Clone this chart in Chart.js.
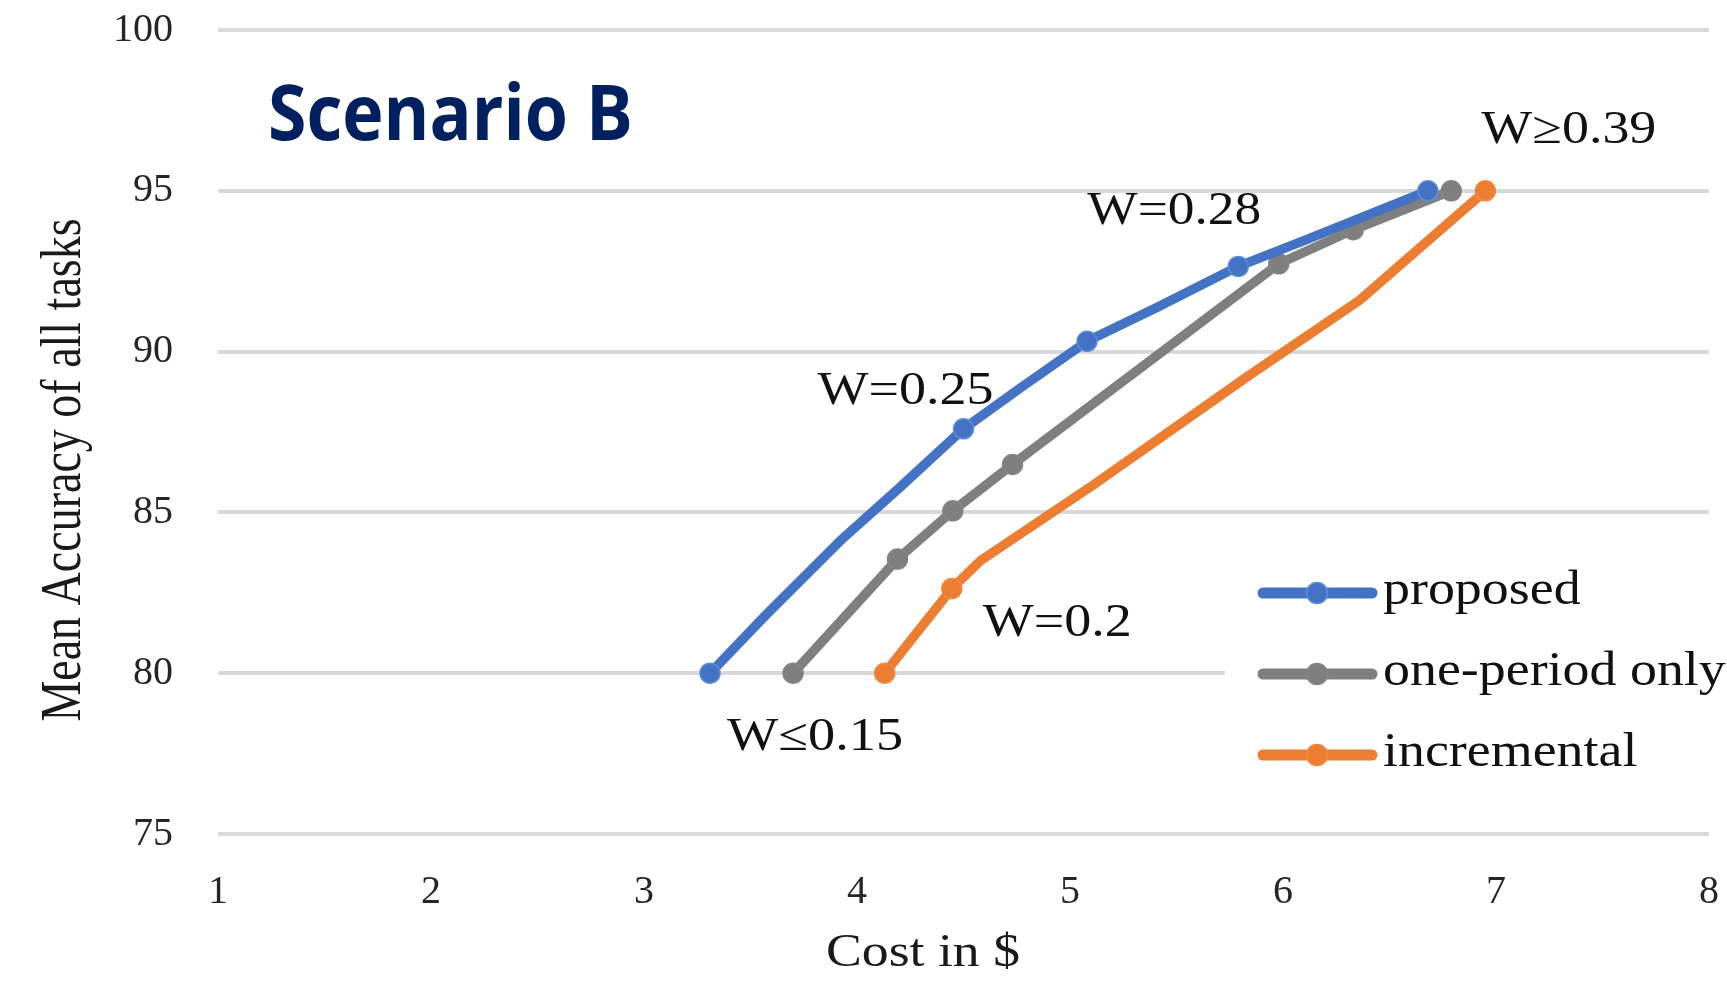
<!DOCTYPE html>
<html>
<head>
<meta charset="utf-8">
<title>Scenario B – cost vs. accuracy</title>
<script src="https://cdn.jsdelivr.net/npm/chart.js@4.4.1/dist/chart.umd.min.js"></script>
<style>
  html, body { margin: 0; padding: 0; background: #ffffff; }
  canvas { display: block; }
</style>
</head>
<body>
<canvas id="chart" width="1727" height="983"></canvas>
<script>
// ---- data -------------------------------------------------------------
const chartHeading = 'Scenario B';
const xTitle = 'Cost in $';
const yTitle = 'Mean Accuracy of all tasks';
const seriesNames = ['proposed', 'one-period only', 'incremental'];

const proposedCost = [3.31, 3.575, 3.92, 4.20, 4.50, 4.78, 5.08, 5.41, 5.79, 6.11, 6.68];
const proposedAcc  = [80.0, 81.83, 84.11, 85.77, 87.60, 88.93, 90.32, 91.38, 92.65, 93.48, 95.0];
const proposedMarked = [0, 4, 6, 8, 10];

const onePeriodCost = [3.70, 4.19, 4.45, 4.73, 5.98, 6.33, 6.79];
const onePeriodAcc  = [80.0, 83.55, 85.05, 86.49, 92.73, 93.79, 95.0];
const onePeriodMarked = [0, 1, 2, 3, 4, 5, 6];

const incrementalCost = [4.13, 4.445, 4.58, 5.115, 5.83, 6.36, 6.95];
const incrementalAcc  = [80.0, 82.63, 83.5, 85.88, 89.21, 91.6, 95.0];
const incrementalMarked = [0, 1, 6];

const xTicks = [1, 2, 3, 4, 5, 6, 7, 8];
const yTicks = [75, 80, 85, 90, 95, 100];

const weightLabels = ['W\u22640.15', 'W=0.25', 'W=0.28', 'W=0.2', 'W\u22650.39'];

// ---- styling ----------------------------------------------------------
const serif = '"Liberation Serif", "Times New Roman", serif';
const colors = ['#4472C4', '#7F7F7F', '#ED7D31'];
const markerEdges = ['#5B8DDA', '#858585', '#F08A42'];

const toPoints = (xs, ys) => xs.map((x, i) => ({ x, y: ys[i] }));
const markerRadius = (marked, r) => c => (marked.includes(c.dataIndex) ? r : 0);

const seriesData = [
  { xs: proposedCost, ys: proposedAcc, marked: proposedMarked },
  { xs: onePeriodCost, ys: onePeriodAcc, marked: onePeriodMarked },
  { xs: incrementalCost, ys: incrementalAcc, marked: incrementalMarked }
];

const datasets = seriesData.map((s, i) => ({
  label: seriesNames[i],
  data: toPoints(s.xs, s.ys),
  borderColor: colors[i],
  backgroundColor: colors[i],
  pointBackgroundColor: colors[i],
  pointBorderColor: markerEdges[i],
  pointBorderWidth: 1.5,
  pointRadius: markerRadius(s.marked, 10),
  pointHoverRadius: markerRadius(s.marked, 10),
  borderWidth: 9.5,
  borderCapStyle: 'round',
  borderJoinStyle: 'round',
  tension: 0,
  fill: false
}));

// where each weight label sits relative to the point it describes (px)
const weightNotes = [
  { text: weightLabels[0], series: 1, index: 0, dx: -66,  dy: 77,  w: 176 },
  { text: weightLabels[1], series: 0, index: 4, dx: -146, dy: -25, w: 176 },
  { text: weightLabels[2], series: 0, index: 8, dx: -151, dy: -42, w: 174 },
  { text: weightLabels[3], series: 2, index: 1, dx: 31,   dy: 47,  w: 149 },
  { text: weightLabels[4], series: 2, index: 6, dx: -4,   dy: -48, w: 175 }
];

// draws text starting at (left, baseline), squeezed/stretched to a width
function fitText(ctx, text, left, baseline, font, width, color) {
  ctx.save();
  ctx.font = font;
  ctx.fillStyle = color;
  ctx.textAlign = 'left';
  ctx.textBaseline = 'alphabetic';
  const natural = ctx.measureText(text).width;
  ctx.translate(left, baseline);
  ctx.scale(width / natural, 1);
  ctx.fillText(text, 0, 0);
  ctx.restore();
}

const overlay = {
  id: 'overlay',
  afterDraw(chart) {
    const { ctx } = chart;
    const xs = chart.scales.x, ys = chart.scales.y;

    // heading
    fitText(ctx, chartHeading, 268, 140, '700 77px "Open Sans", sans-serif', 365, '#002060');

    // weight annotations
    weightNotes.forEach(n => {
      const p = chart.data.datasets[n.series].data[n.index];
      const px = xs.getPixelForValue(p.x), py = ys.getPixelForValue(p.y);
      fitText(ctx, n.text, px + n.dx, py + n.dy, `46px ${serif}`, n.w, '#111111');
    });

    // axis titles
    fitText(ctx, xTitle, 923 - 97, 966, `46px ${serif}`, 194, '#1a1a1a');
    ctx.save();
    ctx.font = `46px ${serif}`;
    ctx.fillStyle = '#1a1a1a';
    ctx.textAlign = 'center';
    ctx.textBaseline = 'alphabetic';
    ctx.translate(80, 470);
    ctx.rotate(-Math.PI / 2);
    ctx.scale(1, 1.25);
    ctx.fillText(yTitle, 0, 0);
    ctx.restore();

    // legend
    ctx.save();
    ctx.fillStyle = '#ffffff';
    ctx.fillRect(1225, 552, 502, 246);
    const rows = [593, 674, 755];
    chart.data.datasets.forEach((ds, i) => {
      const y = rows[i];
      ctx.strokeStyle = ds.borderColor;
      ctx.lineWidth = 11;
      ctx.lineCap = 'round';
      ctx.beginPath();
      ctx.moveTo(1263, y);
      ctx.lineTo(1372, y);
      ctx.stroke();
      ctx.beginPath();
      ctx.arc(1317, y, 10.5, 0, Math.PI * 2);
      ctx.fillStyle = ds.pointBackgroundColor;
      ctx.fill();
      ctx.lineWidth = 1.5;
      ctx.strokeStyle = ds.pointBorderColor;
      ctx.stroke();
      ctx.font = `49px ${serif}`;
      ctx.fillStyle = '#111111';
      ctx.textAlign = 'left';
      ctx.textBaseline = 'alphabetic';
      ctx.save();
      ctx.translate(1383, y + 11);
      ctx.scale(1.1, 1);
      ctx.fillText(ds.label, 0, 0);
      ctx.restore();
    });
    ctx.restore();
  }
};

new Chart(document.getElementById('chart'), {
  type: 'line',
  data: { datasets },
  plugins: [overlay],
  options: {
    responsive: false,
    animation: false,
    events: [],
    layout: { padding: { top: 30, right: 18, left: 0, bottom: 0 } },
    plugins: { legend: { display: false }, tooltip: { enabled: false } },
    scales: {
      x: {
        type: 'linear',
        min: xTicks[0],
        max: xTicks[xTicks.length - 1],
        afterBuildTicks: s => { s.ticks = xTicks.map(v => ({ value: v })); },
        afterFit: s => { s.height = 149; s.paddingLeft = 0; s.paddingRight = 0; },
        grid: { display: false },
        border: { display: false },
        ticks: {
          font: { family: serif, size: 40 },
          color: '#262626',
          padding: 26,
          maxRotation: 0,
          autoSkip: false
        }
      },
      y: {
        type: 'linear',
        min: yTicks[0],
        max: yTicks[yTicks.length - 1],
        afterBuildTicks: s => { s.ticks = yTicks.map(v => ({ value: v })); },
        afterFit: s => { s.width = 218; s.paddingTop = 0; s.paddingBottom = 0; },
        grid: { color: '#D9D9D9', lineWidth: 4, drawTicks: false },
        border: { display: false },
        ticks: {
          font: { family: serif, size: 40 },
          color: '#262626',
          padding: 45
        }
      }
    }
  }
});
</script>
</body>
</html>
